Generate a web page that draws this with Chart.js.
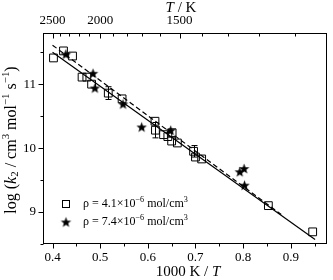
<!DOCTYPE html>
<html>
<head>
<meta charset="utf-8">
<script src="https://cdn.jsdelivr.net/npm/chart.js@4.4.1/dist/chart.umd.min.js"></script>
<style>
    body { margin: 0; background: #fff; }
    canvas { display: block; }
</style>
</head>
<body>
<canvas id="chart" width="333" height="280"></canvas>
<script>
// rho = 4.1e-6 mol/cm3 (open squares)
const rho41X = [0.402, 0.423, 0.442, 0.462, 0.472, 0.482, 0.517, 0.546, 0.615, 0.616, 0.633, 0.642, 0.651, 0.650, 0.662, 0.696, 0.700, 0.713, 0.853, 0.946];
const rho41Y = [11.41, 11.52, 11.44, 11.11, 11.11, 11.00, 10.86, 10.77, 10.42, 10.28, 10.21, 10.18, 10.24, 10.11, 10.08, 9.95, 9.86, 9.83, 9.10, 8.69];
const rho41Err = [0, 0, 0, 0, 0, 0, 0.10, 0, 0, 0.12, 0, 0, 0, 0, 0, 0.09, 0, 0, 0, 0];

// rho = 7.4e-6 mol/cm3 (filled stars)
const rho74X = [0.428, 0.485, 0.489, 0.548, 0.587, 0.648, 0.793, 0.802, 0.803];
const rho74Y = [11.47, 11.17, 10.94, 10.69, 10.33, 10.28, 9.63, 9.68, 9.42];

// fitted lines
const fit41X = [0.40, 0.951];
const fit41Y = [11.50, 8.57];
const fit74X = [0.40, 0.88];
const fit74Y = [11.61, 8.96];

// axis ticks
const xTicks = [0.4, 0.5, 0.6, 0.7, 0.8, 0.9];
const xMinorTicks = [0.45, 0.55, 0.65, 0.75, 0.85, 0.95];
const yTicks = [9, 10, 11];
const yMinorTicks = [8.5, 9.5, 10.5, 11.5];
const topTempTicks = [2500, 2000, 1500];
const topTempMinor = [2400, 2300, 2200, 2100, 1900, 1800, 1700, 1600, 1400, 1300, 1200, 1100];

const serif = "'Liberation Serif', 'DejaVu Serif', serif";

function toPoints(xs, ys) {
    let pts = [];
    for (let i = 0; i < xs.length; i++) {
        pts.push({ x: xs[i], y: ys[i] });
    }
    return pts;
}

function makeStar(r) {
    let c = document.createElement('canvas');
    c.width = c.height = Math.ceil(r * 2) + 2;
    let g = c.getContext('2d');
    g.translate(c.width / 2, c.height / 2 + 0.5);
    g.beginPath();
    for (let i = 0; i < 10; i++) {
        let rad = i % 2 ? r * 0.42 : r;
        let a = -Math.PI / 2 + i * Math.PI / 5;
        g.lineTo(rad * Math.cos(a), rad * Math.sin(a));
    }
    g.closePath();
    g.fillStyle = '#000';
    g.fill();
    return c;
}
const starImg = makeStar(5.5);

function drawRich(ctx, segs, x, y, size, align) {
    let total = 0;
    let widths = [];
    segs.forEach(function (s) {
        let sz = (s.sup || s.sub) ? size * 0.68 : size;
        ctx.font = (s.it ? 'italic ' : '') + sz + 'px ' + serif;
        let w = ctx.measureText(s.t).width;
        widths.push(w);
        total += w;
    });
    let cx = align === 'center' ? x - total / 2 : x;
    ctx.textAlign = 'left';
    ctx.textBaseline = 'middle';
    segs.forEach(function (s, i) {
        let sz = (s.sup || s.sub) ? size * 0.68 : size;
        ctx.font = (s.it ? 'italic ' : '') + sz + 'px ' + serif;
        let dy = s.sup ? -size * 0.38 : (s.sub ? size * 0.22 : 0);
        ctx.fillText(s.t, cx, y + dy);
        cx += widths[i];
    });
}

const framePlugin = {
    id: 'frame',
    afterDatasetsDraw: function (chart) {
        let ctx = chart.ctx;
        let xs = chart.scales.x;
        let ys = chart.scales.y;
        ctx.save();
        ctx.strokeStyle = '#000';
        ctx.lineWidth = 1;
        // error bars
        for (let i = 0; i < rho41X.length; i++) {
            if (!rho41Err[i]) continue;
            let px = Math.round(xs.getPixelForValue(rho41X[i])) + 0.5;
            let top = ys.getPixelForValue(rho41Y[i] + rho41Err[i]);
            let bot = ys.getPixelForValue(rho41Y[i] - rho41Err[i]);
            ctx.beginPath();
            ctx.moveTo(px, top);
            ctx.lineTo(px, bot);
            ctx.moveTo(px - 3, top);
            ctx.lineTo(px + 3, top);
            ctx.moveTo(px - 3, bot);
            ctx.lineTo(px + 3, bot);
            ctx.stroke();
        }
        ctx.restore();
    },
    afterDraw: function (chart) {
        let ctx = chart.ctx;
        let a = chart.chartArea;
        let xs = chart.scales.x;
        let ys = chart.scales.y;
        ctx.save();
        ctx.strokeStyle = '#000';
        ctx.fillStyle = '#000';
        ctx.lineWidth = 1;
        let L = Math.round(a.left) + 0.5, R = Math.round(a.right) - 0.5;
        let T = Math.round(a.top) + 0.5, B = Math.round(a.bottom) - 0.5;
        ctx.strokeRect(L, T, R - L, B - T);

        ctx.beginPath();
        // bottom ticks, outward
        xTicks.concat(xMinorTicks).forEach(function (v, i) {
            let px = Math.round(xs.getPixelForValue(v)) + 0.5;
            let len = i < xTicks.length ? 5 : 3;
            ctx.moveTo(px, B);
            ctx.lineTo(px, B + len);
        });
        // left ticks, outward
        yTicks.concat(yMinorTicks).forEach(function (v, i) {
            let py = Math.round(ys.getPixelForValue(v)) + 0.5;
            let len = i < yTicks.length ? 5 : 3;
            ctx.moveTo(L, py);
            ctx.lineTo(L - len, py);
        });
        // top ticks (temperature), inward
        topTempTicks.concat(topTempMinor).forEach(function (t, i) {
            let px = Math.round(xs.getPixelForValue(1000 / t)) + 0.5;
            let len = i < topTempTicks.length ? 5 : 3;
            ctx.moveTo(px, T);
            ctx.lineTo(px, T + len);
        });
        ctx.stroke();

        // axis titles
        drawRich(ctx, [{ t: 'T', it: true }, { t: ' / K' }], 181, 8, 15, 'center');
        drawRich(ctx, [{ t: '1000 K / ' }, { t: 'T', it: true }], 188, 272, 15, 'center');
        ctx.save();
        ctx.translate(12, 140);
        ctx.rotate(-Math.PI / 2);
        drawRich(ctx, [
            { t: 'log (' }, { t: 'k', it: true }, { t: '2', sub: true }, { t: ' / cm' }, { t: '3', sup: true },
            { t: ' mol' }, { t: '\u22121', sup: true }, { t: ' s' }, { t: '\u22121', sup: true }, { t: ')' }
        ], 0, 0, 16, 'center');
        ctx.restore();

        // legend
        ctx.lineWidth = 1;
        ctx.strokeRect(62.5, 200.5, 7, 7);
        ctx.drawImage(starImg, 66 - starImg.width / 2, 222 - starImg.height / 2);
        drawRich(ctx, [{ t: '\u03c1 = 4.1\u00d710' }, { t: '\u22126', sup: true }, { t: ' mol/cm' }, { t: '3', sup: true }], 83, 204, 12, 'left');
        drawRich(ctx, [{ t: '\u03c1 = 7.4\u00d710' }, { t: '\u22126', sup: true }, { t: ' mol/cm' }, { t: '3', sup: true }], 83, 222, 12, 'left');
        ctx.restore();
    }
};

const tickFont = { family: serif, size: 13 };

let ctx = document.getElementById('chart').getContext('2d');
let myChart = new Chart(ctx, {
    type: 'scatter',
    data: {
        datasets: [{
            label: 'fit 4.1',
            data: toPoints(fit41X, fit41Y),
            showLine: true,
            borderColor: '#000',
            borderWidth: 1.2,
            pointRadius: 0
        }, {
            label: 'fit 7.4',
            data: toPoints(fit74X, fit74Y),
            showLine: true,
            borderColor: '#000',
            borderWidth: 1.2,
            borderDash: [5, 3],
            pointRadius: 0
        }, {
            label: 'rho = 4.1e-6 mol/cm3',
            data: toPoints(rho41X, rho41Y),
            pointStyle: 'rect',
            pointRadius: 5.5,
            pointBorderWidth: 1,
            pointBorderColor: '#000',
            pointBackgroundColor: 'rgba(0,0,0,0)'
        }, {
            label: 'rho = 7.4e-6 mol/cm3',
            data: toPoints(rho74X, rho74Y),
            pointStyle: starImg,
            pointRadius: 5
        }]
    },
    options: {
        responsive: false,
        animation: false,
        layout: { padding: { top: 0, right: 3, bottom: 0, left: 0 } },
        plugins: {
            legend: { display: false },
            tooltip: { enabled: false }
        },
        scales: {
            x: {
                type: 'linear',
                position: 'bottom',
                min: 0.38,
                max: 0.975,
                grid: { display: false, drawTicks: false },
                border: { display: false },
                ticks: {
                    font: tickFont,
                    color: '#000',
                    padding: 6,
                    maxRotation: 0,
                    callback: function (v) { return v.toFixed(1); }
                },
                afterBuildTicks: function (s) { s.ticks = xTicks.map(function (v) { return { value: v }; }); },
                afterFit: function (s) { s.height = 36; }
            },
            x2: {
                type: 'linear',
                position: 'top',
                min: 0.38,
                max: 0.975,
                grid: { display: false, drawTicks: false },
                border: { display: false },
                ticks: {
                    font: tickFont,
                    color: '#000',
                    padding: 5,
                    maxRotation: 0,
                    callback: function (v) { return String(Math.round(1000 / v)); }
                },
                afterBuildTicks: function (s) { s.ticks = topTempTicks.map(function (t) { return { value: 1000 / t }; }); },
                afterFit: function (s) { s.height = 33; }
            },
            y: {
                type: 'linear',
                position: 'left',
                min: 8.5,
                max: 11.8,
                grid: { display: false, drawTicks: false },
                border: { display: false },
                ticks: {
                    font: tickFont,
                    color: '#000',
                    padding: 7
                },
                afterBuildTicks: function (s) { s.ticks = yTicks.map(function (v) { return { value: v }; }); },
                afterFit: function (s) { s.width = 43; }
            }
        }
    },
    plugins: [framePlugin]
});
</script>
</body>
</html>
